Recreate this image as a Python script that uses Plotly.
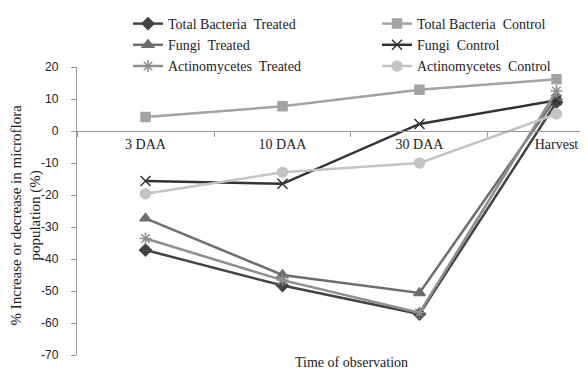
import plotly.graph_objects as go

categories = ["3 DAA", "10 DAA", "30 DAA", "Harvest"]
tb_treated = [-37.2, -48.3, -57.2, 9.0]
tb_control = [4.4, 7.7, 12.9, 16.2]
fungi_treated = [-27.3, -45.0, -50.6, 10.5]
fungi_control = [-15.6, -16.5, 2.2, 9.6]
actino_treated = [-33.6, -46.6, -56.8, 12.5]
actino_control = [-19.6, -12.9, -10.0, 5.3]
y_tick_values = [-70, -60, -50, -40, -30, -20, -10, 0, 10, 20]
y_tick_labels = ["-70", "-60", "-50", "-40", "-30", "-20", "-10", "0", "10", "20"]

series = [
    ("Total Bacteria  Treated", tb_treated, "#434343", "diamond", 9, "legend"),
    ("Total Bacteria  Control", tb_control, "#a3a3a3", "square", 9, "legend2"),
    ("Fungi  Treated", fungi_treated, "#6e6e6e", "triangle-up", 10, "legend"),
    ("Fungi  Control", fungi_control, "#333333", "x-thin", 10, "legend2"),
    ("Actinomycetes  Treated", actino_treated, "#8e8e8e", "asterisk", 10, "legend"),
    ("Actinomycetes  Control", actino_control, "#c4c4c4", "circle", 10, "legend2"),
]

fig = go.Figure()
for name, vals, col, sym, sz, leg in series:
    fig.add_trace(go.Scatter(
        x=categories, y=vals, name=name, mode="lines+markers", legend=leg,
        line=dict(color=col, width=2.5),
        marker=dict(symbol=sym, size=sz, color=col,
                    line=dict(color=col, width=1.5)),
    ))

serif = "Liberation Serif"
ymin, ymax = -70, 20
# page body adds an 8px offset; figure is sized to fit the window
W, H = 580, 361
legfont = dict(family=serif, size=14, color="#222")
fig.update_layout(
    width=W, height=H,
    margin=dict(l=69, r=0, t=59, b=14, autoexpand=False),
    plot_bgcolor="white", paper_bgcolor="white",
    showlegend=True,
    legend=dict(
        orientation="v", x=120 / W, y=1.0, xref="container", yref="container",
        xanchor="left", yanchor="top", font=legfont, itemwidth=30,
        tracegroupgap=0, bgcolor="rgba(0,0,0,0)",
    ),
    legend2=dict(
        orientation="v", x=369 / W, y=1.0, xref="container", yref="container",
        xanchor="left", yanchor="top", font=legfont, itemwidth=30,
        tracegroupgap=0, bgcolor="rgba(0,0,0,0)",
    ),
    xaxis=dict(
        type="category", range=[-0.5, 3.23], automargin=False,
        anchor="free", position=(0 - ymin) / (ymax - ymin),
        showline=True, linecolor="#999", linewidth=1.3,
        ticks="outside", tickson="boundaries", ticklen=5, tickcolor="#999",
        showgrid=False, zeroline=False,
        tickfont=dict(family=serif, size=14, color="#222"),
    ),
    yaxis=dict(
        range=[ymin, ymax], tickmode="array", tickvals=y_tick_values,
        ticktext=y_tick_labels, showline=True, linecolor="#999",
        linewidth=1.3, ticks="outside", ticklen=5, tickcolor="#999",
        ticklabelstandoff=10,
        showgrid=False, zeroline=False, automargin=False,
        tickfont=dict(family="Liberation Sans", size=12, color="#222"),
    ),
    annotations=[
        dict(
            text="Time of observation", xref="paper", yref="paper",
            x=(343 - 69) / 511, y=-(354 - 347) / 288, xanchor="center",
            yanchor="middle", showarrow=False,
            font=dict(family=serif, size=14, color="#222"),
        ),
        dict(
            text="% Increase or decrease in microflora<br>population (%)",
            xref="paper", yref="paper", textangle=-90,
            x=(17.5 - 69) / 511, y=(347 - 207) / 288,
            xanchor="center", yanchor="middle", showarrow=False,
            font=dict(family=serif, size=15, color="#222"),
        ),
    ],
)

fig.write_html("out.html")
